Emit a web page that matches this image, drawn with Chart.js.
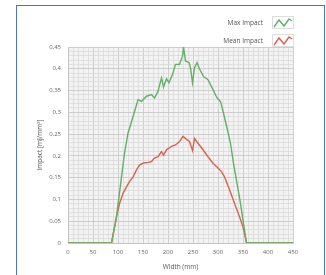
<!DOCTYPE html>
<html>
<head>
<meta charset="utf-8">
<script src="https://cdn.jsdelivr.net/npm/chart.js@4"></script>
<style>
  html, body { margin: 0; padding: 0; background: #fff; }
  #wrap { position: relative; width: 326px; height: 275px; overflow: hidden; }
  #frame {
    position: absolute; left: 16px; top: 5px; width: 307px; height: 290px;
    border: 1.5px solid #4a74c4;
  }
  canvas { position: absolute; left: 0; top: 0; }
</style>
</head>
<body>
<div id="wrap">
  <div id="frame"></div>
  <canvas id="impactChart" width="326" height="275"></canvas>
</div>
<script>
// Max impact series
const maxWidth = [0, 87, 97, 107, 113, 120, 130, 140, 147, 157, 167, 173, 180, 187, 191, 197, 202, 209, 215, 223,
  229, 231, 235, 242, 245, 249, 253, 258, 263, 271, 280, 290, 298, 305, 311, 318, 325, 331, 338, 345, 350, 357, 450];
const maxImpact = [0, 0, 0.06, 0.152, 0.206, 0.252, 0.29, 0.329, 0.325, 0.337, 0.341, 0.333, 0.348, 0.379, 0.358, 0.377, 0.368, 0.387, 0.41, 0.41,
  0.429, 0.45, 0.418, 0.414, 0.402, 0.368, 0.402, 0.414, 0.4, 0.382, 0.375, 0.352, 0.333, 0.325, 0.298, 0.264, 0.229, 0.183, 0.137, 0.091, 0.052, 0, 0];

// Mean impact series
const meanWidth = [0, 87, 97, 103, 110, 117, 123, 130, 137, 143, 150, 160, 167, 173, 180, 187, 191, 197, 207, 215,
  223, 230, 237, 243, 249, 253, 260, 270, 280, 290, 300, 307, 313, 323, 333, 343, 350, 357, 450];
const meanImpact = [0, 0, 0.06, 0.09, 0.114, 0.129, 0.141, 0.152, 0.168, 0.179, 0.183, 0.185, 0.187, 0.195, 0.198, 0.21, 0.202, 0.214, 0.222, 0.225,
  0.233, 0.245, 0.238, 0.233, 0.212, 0.24, 0.229, 0.214, 0.198, 0.183, 0.172, 0.164, 0.152, 0.122, 0.091, 0.06, 0.037, 0, 0];

const seriesLabels = ['Max Impact', 'Mean Impact'];
const seriesColors = ['#62b066', '#e0604a'];
const xTitle = 'Width (mm)';
const yTitle = 'Impact [mJ/mm²]';

const toPoints = (xs, ys) => xs.map((x, i) => ({ x, y: ys[i] }));

const FONT = '"Open Sans", "DejaVu Sans", sans-serif';

// light plot background
const plotBg = {
  id: 'plotBg',
  beforeDraw(chart) {
    const { ctx, chartArea: a } = chart;
    ctx.save();
    ctx.fillStyle = '#f3f3f3';
    ctx.fillRect(a.left, a.top, a.right - a.left, a.bottom - a.top);
    ctx.restore();
  },
};

// legend top right with zigzag icons
const zigLegend = {
  id: 'zigLegend',
  afterDraw(chart) {
    const { ctx } = chart;
    ctx.save();
    ctx.font = '6.5px ' + FONT;
    ctx.textAlign = 'right';
    ctx.textBaseline = 'middle';
    seriesLabels.forEach((label, i) => {
      const y = 23 + i * 18;
      ctx.fillStyle = '#555';
      ctx.fillText(label, 263, y);
      ctx.strokeStyle = '#dddddd';
      ctx.lineWidth = 1;
      ctx.strokeRect(272.5, y - 6.5, 21, 12);
      ctx.strokeStyle = seriesColors[i];
      ctx.lineWidth = 1.4;
      ctx.beginPath();
      ctx.moveTo(274, y + 4);
      ctx.lineTo(279, y - 3);
      ctx.lineTo(284, y + 3);
      ctx.lineTo(289, y - 4);
      ctx.lineTo(292, y - 2);
      ctx.stroke();
    });
    ctx.restore();
  },
};

const yLabel = v => {
  const k = Math.round(v * 100);
  if (k % 5 !== 0) return '';
  return k === 0 ? '0' : String(k / 100).replace('.', ',');
};

new Chart(document.getElementById('impactChart'), {
  type: 'line',
  data: {
    datasets: [
      {
        label: seriesLabels[0],
        data: toPoints(maxWidth, maxImpact),
        borderColor: seriesColors[0],
        borderWidth: 1.4,
        pointRadius: 0,
        tension: 0,
        fill: false,
      },
      {
        label: seriesLabels[1],
        data: toPoints(meanWidth, meanImpact),
        borderColor: seriesColors[1],
        borderWidth: 1.4,
        pointRadius: 0,
        tension: 0,
        fill: false,
      },
    ],
  },
  options: {
    responsive: false,
    animation: false,
    layout: { padding: { left: 0, right: 33, top: 47, bottom: 0 } },
    plugins: { legend: { display: false }, tooltip: { enabled: false } },
    scales: {
      x: {
        type: 'linear',
        min: 0,
        max: 450,
        afterFit: s => { s.height = 32; },
        ticks: {
          stepSize: 10,
          autoSkip: false,
          maxRotation: 0,
          padding: 6,
          color: '#666',
          font: { size: 6, family: FONT },
          callback: v => (Math.round(v) % 50 === 0 ? String(Math.round(v)) : ''),
        },
        grid: {
          drawTicks: false,
          color: c => (Math.round(c.tick.value) % 50 === 0 ? '#c4c4c4' : '#dadada'),
          lineWidth: 0.8,
        },
        border: { color: '#c4c4c4' },
        title: {
          display: true,
          text: xTitle,
          color: '#555',
          font: { size: 6.5, family: FONT },
          padding: { top: 12 },
        },
      },
      y: {
        type: 'linear',
        min: 0,
        max: 0.45,
        afterFit: s => { s.width = 68; },
        ticks: {
          stepSize: 0.01,
          autoSkip: false,
          padding: 7,
          color: '#666',
          font: { size: 6, family: FONT },
          callback: yLabel,
        },
        grid: {
          drawTicks: false,
          color: c => (Math.round(c.tick.value * 100) % 5 === 0 ? '#c4c4c4' : '#dadada'),
          lineWidth: 0.8,
        },
        border: { color: '#c4c4c4' },
        title: {
          display: true,
          text: yTitle,
          color: '#555',
          font: { size: 6.5, family: FONT },
          padding: { top: 36 },
        },
      },
    },
  },
  plugins: [plotBg, zigLegend],
});
</script>
</body>
</html>
